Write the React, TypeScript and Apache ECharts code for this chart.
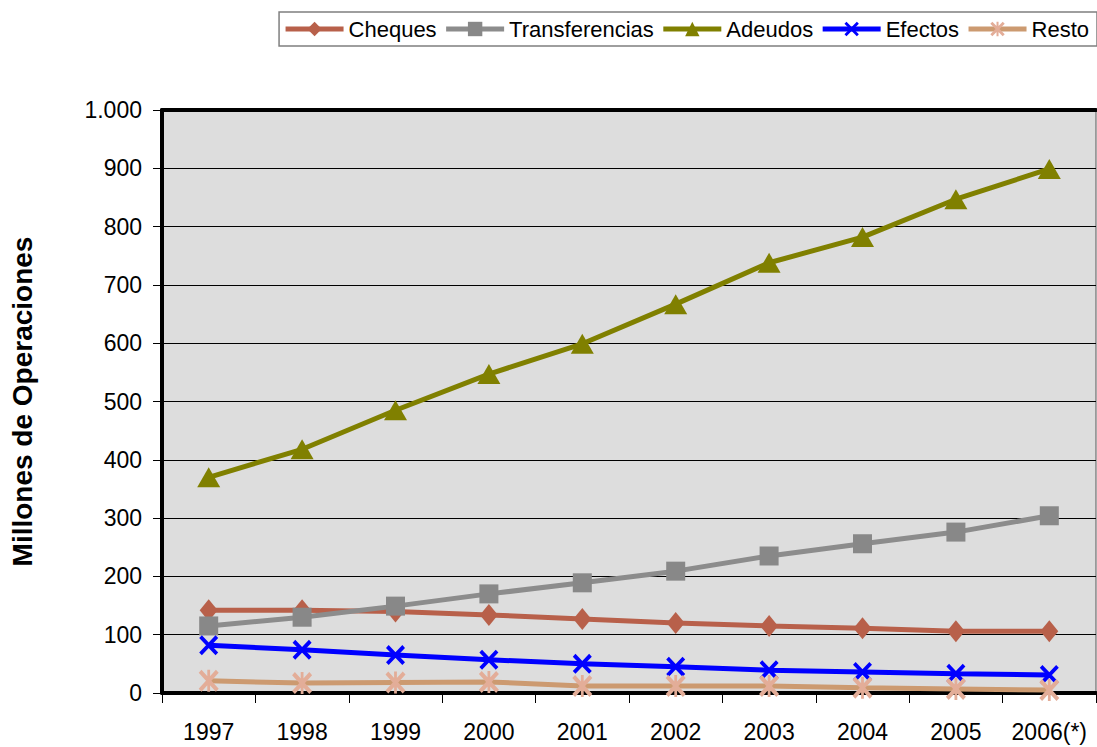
import React, { useEffect, useRef } from "react";
import * as echarts from "echarts";

const categories = ["1997", "1998", "1999", "2000", "2001", "2002", "2003", "2004", "2005", "2006(*)"];
const cheques = [142, 142, 140, 134, 127, 120, 115, 111, 106, 106];
const transferencias = [115, 130, 149, 170, 189, 209, 235, 256, 276, 304];
const adeudos = [370, 418, 485, 547, 599, 667, 738, 782, 847, 899];
const efectos = [82, 74, 65, 57, 50, 45, 39, 36, 33, 31];
const resto = [21, 17, 18, 19, 12, 12, 12, 9, 7, 5];

const FONT = "'Liberation Sans', Arial, sans-serif";

const xSymbol = "path://M0,1.4 L1.4,0 L10,8.6 L8.6,10 Z M8.6,0 L10,1.4 L1.4,10 L0,8.6 Z";
const starSymbol =
  "path://M0,1.4 L1.4,0 L10,8.6 L8.6,10 Z M8.6,0 L10,1.4 L1.4,10 L0,8.6 Z M4.3,0 L5.7,0 L5.7,10 L4.3,10 Z";

export default function App() {
  const ref = useRef<HTMLDivElement>(null);
  useEffect(() => {
    document.body.style.margin = "0";
    const chart = echarts.init(ref.current!, null, { renderer: "svg" });
    const mk = (name: string, data: number[], color: string, symbol: string, size: any, lw: number, symColor?: string) => ({
      name,
      type: "line",
      data,
      symbol,
      symbolSize: size,
      lineStyle: { color, width: lw },
      itemStyle: { color: symColor || color },
      emphasis: { disabled: true },
    });
    chart.setOption({
      animation: false,
      backgroundColor: "#ffffff",
      textStyle: { fontFamily: FONT },
      legend: {
        right: 0,
        top: 12,
        itemWidth: 58,
        itemHeight: 18,
        itemGap: 7,
        padding: [6, 8, 6, 4],
        borderColor: "#7f7f7f",
        borderWidth: 1.5,
        lineStyle: { width: 5 },
        textStyle: { fontSize: 22, color: "#000", fontFamily: FONT },
        data: ["Cheques", "Transferencias", "Adeudos", "Efectos", "Resto"],
      },
      grid: {
        left: 162,
        right: 1,
        top: 110,
        bottom: 54,
        show: true,
        backgroundColor: "#dddddd",
        borderColor: "#555555",
        borderWidth: 1,
      },
      xAxis: [
        {
          type: "category",
          data: categories,
          boundaryGap: true,
          axisLine: { lineStyle: { color: "#000", width: 4 } },
          axisTick: { show: true, interval: 0, length: 10, lineStyle: { color: "#000", width: 1 } },
          axisLabel: { interval: 0, hideOverlap: false, fontSize: 23, color: "#000", margin: 27, fontFamily: FONT },
          splitLine: { show: false },
        },
        {
          type: "category",
          data: categories,
          position: "top",
          axisLine: { lineStyle: { color: "#000", width: 4 } },
          axisTick: { show: false },
          axisLabel: { show: false },
        },
      ],
      yAxis: {
        type: "value",
        min: 0,
        max: 1000,
        interval: 100,
        name: "Millones de Operaciones",
        nameLocation: "middle",
        nameGap: 126,
        nameTextStyle: { fontSize: 28, fontWeight: "bold", color: "#000", fontFamily: FONT },
        axisLine: { show: true, lineStyle: { color: "#000", width: 4 } },
        axisTick: { show: true, length: 9, lineStyle: { color: "#000", width: 1 } },
        axisLabel: {
          fontSize: 23,
          color: "#000",
          margin: 20,
          fontFamily: FONT,
          formatter: (v: number) => (v >= 1000 ? String(v).replace(/(\d)(\d{3})$/, "$1.$2") : String(v)),
        },
        splitLine: { show: true, lineStyle: { color: "#000", width: 1 } },
      },
      series: [
        mk("Cheques", cheques, "#b8604a", "diamond", [18, 22], 5),
        mk("Transferencias", transferencias, "#8c8c8c", "rect", 19, 5, "#888888"),
        mk("Adeudos", adeudos, "#808000", "triangle", [23, 20], 5),
        mk("Efectos", efectos, "#0000ff", xSymbol, [19, 20], 5),
        mk("Resto", resto, "#cc9a70", starSymbol, [20, 22], 5, "#e3ad98"),
      ],
    });
    return () => chart.dispose();
  }, []);
  return <div ref={ref} style={{ width: 1097, height: 747 }} />;
}
